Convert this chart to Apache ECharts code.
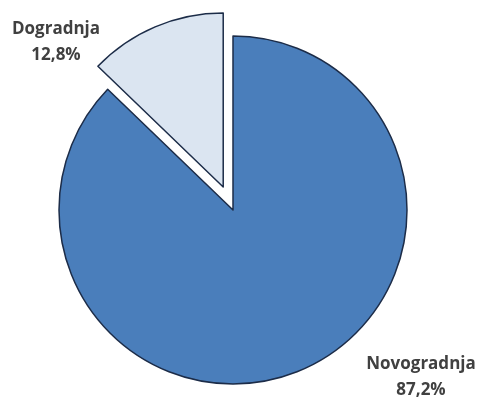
<!DOCTYPE html>
<html><head><meta charset="utf-8">
<script src="https://cdn.jsdelivr.net/npm/echarts@6/dist/echarts.min.js"></script>
<style>html,body{margin:0;padding:0;background:#fff}#c{width:480px;height:401px}</style>
</head><body><div id="c"></div>
<script>
const categories = ['Novogradnja', 'Dogradnja'];
const values = [87.2, 12.8];
const colors = ['#4a7ebb', '#dbe5f1'];
const explodedIndex = 1;

const center = [233, 210];
const radius = 174;
const explodeOffset = 25;

// mid angle of exploded slice (degrees, counterclockwise from +x), for offset centre
const total = values.reduce((a, b) => a + b, 0);
let before = 0;
for (let i = 0; i < explodedIndex; i++) before += values[i];
const midAngle = (90 - (before + values[explodedIndex] / 2) / total * 360) * Math.PI / 180;
const explodedCenter = [center[0] + explodeOffset * Math.cos(midAngle), center[1] - explodeOffset * Math.sin(midAngle)];

const labelPos = [{ x: 421, y: 377 }, { x: 56, y: 42 }];

function makeSeries(showIndex, c) {
  return {
    type: 'pie',
    center: c,
    radius: radius,
    startAngle: 90,
    clockwise: true,
    silent: true,
    data: categories.map((n, i) => ({
      name: n, value: values[i],
      itemStyle: i === showIndex
        ? { color: colors[i], borderColor: '#1c2c48', borderWidth: 1.5 }
        : { color: 'rgba(0,0,0,0)', borderWidth: 0 },
      label: { show: i === showIndex }
    })),
    label: {
      position: 'outside',
      formatter: p => p.name + '\n' + p.value.toFixed(1).replace('.', ',') + '%',
      fontFamily: 'Open Sans',
      fontWeight: 'bold',
      fontSize: 17,
      lineHeight: 26,
      color: '#404040',
      align: 'center'
    },
    labelLine: { show: false },
    labelLayout: p => ({ x: labelPos[p.dataIndex].x, y: labelPos[p.dataIndex].y, align: 'center', verticalAlign: 'middle' }),
    emphasis: { disabled: true }
  };
}

const chart = echarts.init(document.getElementById('c'));
chart.setOption({
  animation: false,
  series: [makeSeries(0, center), makeSeries(explodedIndex, explodedCenter)]
});
</script></body></html>
